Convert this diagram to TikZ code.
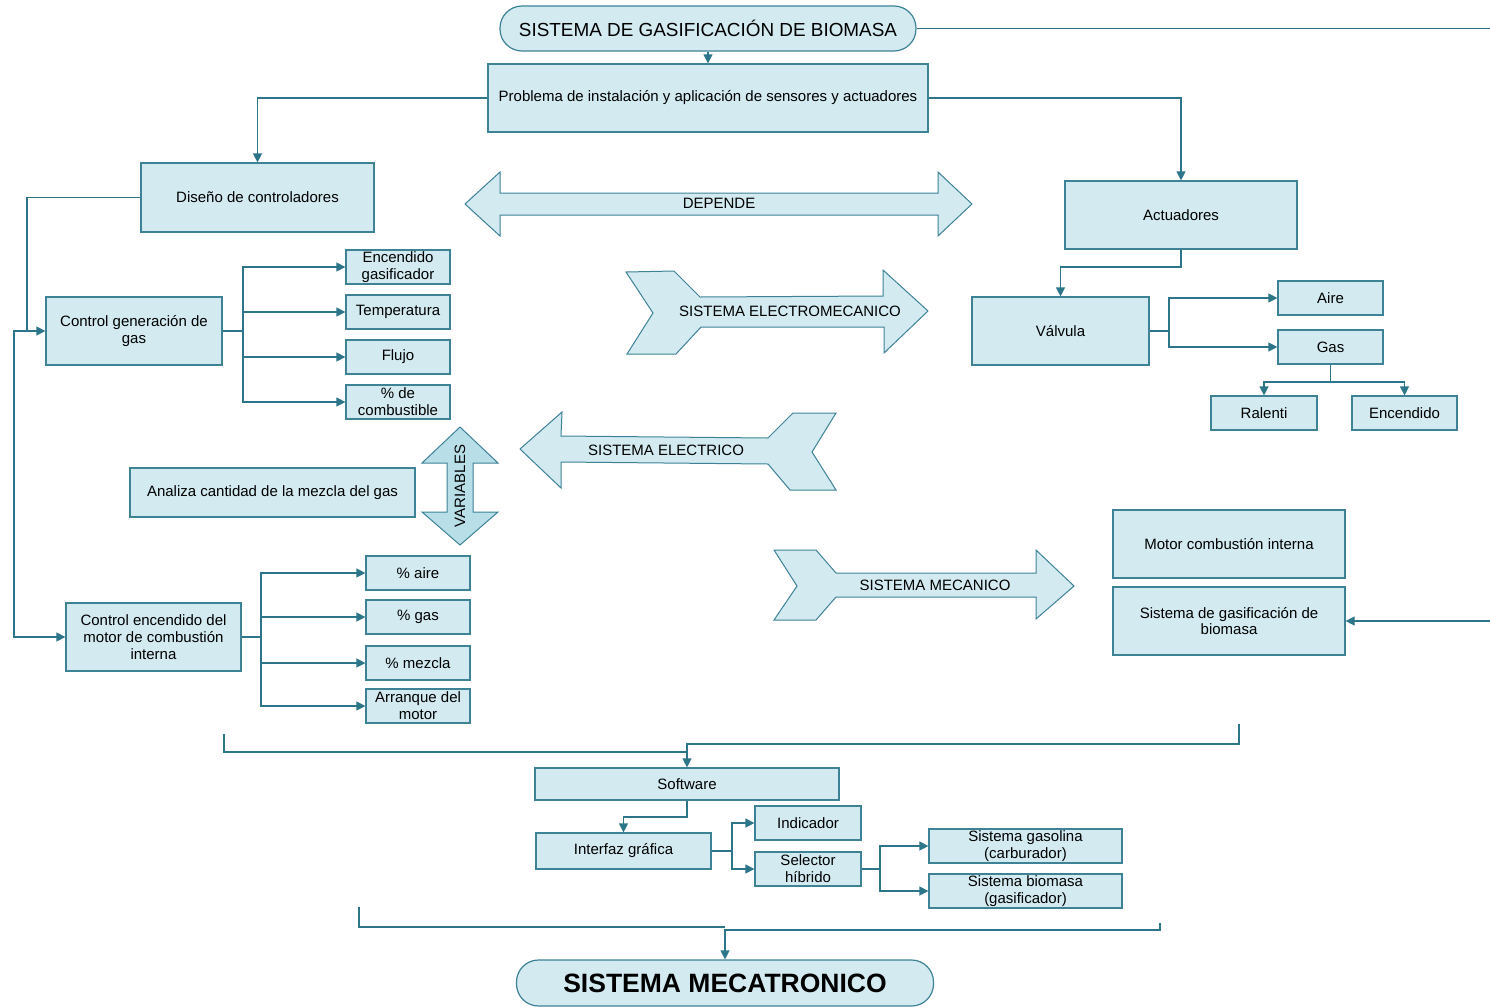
\documentclass[tikz,border=0pt]{standalone}
\usepackage{fontspec}
\setmainfont{Liberation Sans}
\usetikzlibrary{arrows.meta}
\definecolor{boxfill}{RGB}{210,234,240}
\definecolor{boxline}{RGB}{62,130,150}
\definecolor{wirecol}{RGB}{45,117,136}
\definecolor{varfill}{RGB}{184,222,232}
\begin{document}
\begin{tikzpicture}[x=1pt,y=-1pt,
  every node/.style={font=\fontsize{15}{16.8}\selectfont},
  box/.style={draw=boxline, fill=boxfill, line width=1.2pt, align=center, inner sep=1pt},
  sz/.style 2 args={minimum width=#1pt, minimum height=#2pt},
  pill/.style={box, rounded corners=22pt},
  wire/.style={draw=wirecol, line width=1.2pt},
  feed/.style={wire, -{Triangle[length=9pt,width=9pt]}},
  bigarrow/.style={draw=boxline, fill=boxfill, line width=1pt, line join=miter},
  lbl/.style={inner sep=0pt},
]
\useasboundingbox (0,0) rectangle (1490,1007);
\clip (0,0) rectangle (1490,1007);

% ---- top of the tree
\node[pill, sz={416}{45}, font=\fontsize{18.9}{21}\selectfont] (title) at (708,28.5) {SISTEMA DE GASIFICACIÓN DE BIOMASA};
\node[box, sz={440}{68}] (prob) at (708,98) {Problema de instalación y aplicación de sensores y actuadores};
\node[box, sz={233}{69}] (dis) at (257.5,197.5) {Diseño de controladores};
\node[box, sz={232}{68}] (act) at (1181,215) {Actuadores};

% ---- gas generation control
\node[box, sz={176}{68}] (cg) at (134,331) {Control generación de\\gas};
\node[box, sz={104}{34}] (eg) at (398,267) {Encendido\\gasificador};
\node[box, sz={104}{34}] (tmp) at (398,312) {Temperatura};
\node[box, sz={104}{34}] (flu) at (398,357) {Flujo};
\node[box, sz={104}{34}] (cmb) at (398,402) {\% de\\combustible};
\node[box, sz={285}{49}] (ana) at (272.5,492.5) {Analiza cantidad de la mezcla del gas};

% ---- engine ignition control
\node[box, sz={175}{68}] (ce) at (153.5,637) {Control encendido del\\motor de combustión\\interna};
\node[box, sz={104}{34}] (pa) at (418,573) {\% aire};
\node[box, sz={104}{34}] (pg) at (418,617) {\% gas};
\node[box, sz={104}{34}] (pm) at (418,663) {\% mezcla};
\node[box, sz={104}{34}] (arr) at (418,706) {Arranque del\\motor};

% ---- actuators
\node[box, sz={177}{68}] (val) at (1060.5,331) {Válvula};
\node[box, sz={105}{34}] (aire) at (1330.5,298) {Aire};
\node[box, sz={105}{34}] (gas) at (1330.5,347) {Gas};
\node[box, sz={106}{34}] (ral) at (1264,413) {Ralenti};
\node[box, sz={105}{34}] (enc) at (1404.5,413) {Encendido};

% ---- mechanical side
\node[box, sz={232}{68}] (mci) at (1229,544) {Motor combustión interna};
\node[box, sz={232}{68}] (sgb) at (1229,621) {Sistema de gasificación de\\biomasa};

% ---- software
\node[box, sz={304}{32}] (soft) at (687,784) {Software};
\node[box, sz={175}{36}] (gui) at (623.5,851) {Interfaz gráfica};
\node[box, sz={106}{34}] (ind) at (808,823) {Indicador};
\node[box, sz={106}{34}] (sel) at (808,869) {Selector\\híbrido};
\node[box, sz={193}{34}] (sgas) at (1025.5,846) {Sistema gasolina\\(carburador)};
\node[box, sz={193}{34}] (sbio) at (1025.5,891) {Sistema biomasa\\(gasificador)};
\node[pill, sz={417}{46}, font=\fontsize{26.5}{28}\selectfont\bfseries] (meca) at (725,983) {SISTEMA MECATRONICO};

% ---- block arrows
\draw[bigarrow] (465,204) -- (500,172) -- (500,193) -- (938,193) -- (938,172) -- (972,204)
  -- (938,236) -- (938,215) -- (500,215) -- (500,236) -- cycle;
\node[lbl] (dep) at (719,203) {DEPENDE};

\draw[bigarrow] (626,272) -- (674,271) -- (700,297) -- (883,296) -- (883,270) -- (928,311)
  -- (884,353) -- (884,327) -- (701,327) -- (676,354) -- (627,354) -- (653,313) -- cycle;
\node[lbl] (sem) at (790,311) {SISTEMA ELECTROMECANICO};

\draw[bigarrow] (520,449) -- (562,412) -- (561,436) -- (768,438) -- (793,413) -- (836,413)
  -- (812,452) -- (836,490) -- (790,490) -- (768,464) -- (561,462) -- (561,488) -- cycle;
\node[lbl] (sel2) at (666,450) {SISTEMA ELECTRICO};

\draw[bigarrow] (774,550) -- (816,550) -- (836,573) -- (1036,573) -- (1036,550) -- (1074,586)
  -- (1036,619) -- (1036,597) -- (836,597) -- (816,620) -- (774,620) -- (797,586) -- cycle;
\node[lbl] (smec) at (935,585) {SISTEMA MECANICO};

\draw[bigarrow, fill=varfill] (460,427) -- (498,463) -- (473,463) -- (473,512) -- (498,512)
  -- (460,545) -- (422,512) -- (447,512) -- (447,463) -- (422,463) -- cycle;
\node[lbl, rotate=90] (var) at (460,486) {VARIABLES};

% ---- connectors
\draw[feed] (title.south) -- (prob.north);
\draw[feed] (prob.west) -| (dis.north);
\draw[feed] (prob.east) -| (act.north);

\coordinate (jl) at (27,331);
\draw[feed] (dis.west) -| (jl) -- (cg.west);
\draw[feed] (jl) -- (14,331) |- (ce.west);

\coordinate (cgf) at (243,331);
\foreach \n in {eg,tmp,flu,cmb} \draw[feed] (cg.east) -- (cgf) |- (\n.west);
\coordinate (cef) at (261,637);
\foreach \n in {pa,pg,pm,arr} \draw[feed] (ce.east) -- (cef) |- (\n.west);

\coordinate (actf) at (1181,267);
\draw[feed] (act.south) -- (actf) -| (val.north);
\coordinate (valf) at (1169,331);
\foreach \n in {aire,gas} \draw[feed] (val.east) -- (valf) |- (\n.west);
\coordinate (gasf) at (1330.5,382);
\foreach \n in {ral,enc} \draw[feed] (gas.south) -- (gasf) -| (\n.north);

\coordinate (far) at (1500,28.5);
\draw[feed] (title.east) -- (far) |- (sgb.east);

\coordinate (bl) at (224,734);
\coordinate (br) at (1239,724);
\draw[wire] (bl) |- (687,752);
\draw[feed] (br) |- (687,744) -- (soft.north);

\draw[feed] (soft.south) -- (687,817) -| (gui.north);
\coordinate (guif) at (732,851);
\foreach \n in {ind,sel} \draw[feed] (gui.east) -- (guif) |- (\n.west);
\coordinate (self) at (880,869);
\foreach \n in {sgas,sbio} \draw[feed] (sel.east) -- (self) |- (\n.west);

\coordinate (bl2) at (359,907);
\coordinate (br2) at (1160,923);
\draw[wire] (bl2) |- (725,927);
\draw[feed] (br2) |- (725,930) -- (meca.north);
\end{tikzpicture}
\end{document}
